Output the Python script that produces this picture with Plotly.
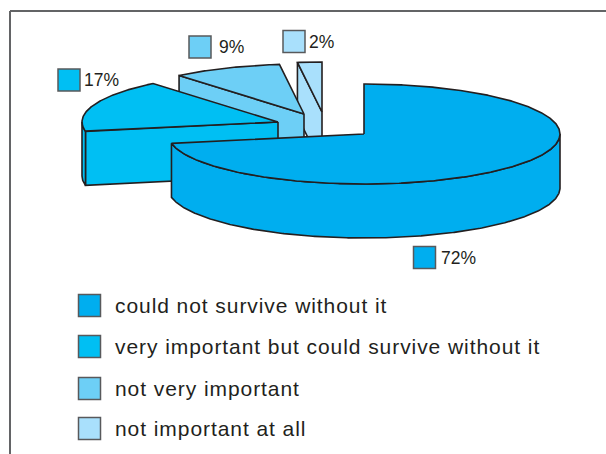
import numpy as np
import plotly.graph_objects as go

categories = ["could not survive without it", "very important but could survive without it",
              "not very important", "not important at all"]
values = [72, 17, 9, 2]
pct_labels = ["72%", "17%", "9%", "2%"]

# styles and layout constants
colors = ["#00AEEF", "#00BFF3", "#6DCFF6", "#A9E0FC"]
W, H = 606, 454
RX, RY, DEPTH = 196, 50, 54
CENTER = (364, 134)
explode = [(0, 0), (-86, -12), (-60, -20), (-42, -22)]
tag_pos = [(424.5, 257.5), (69, 80), (200, 47), (294, 41.5)]
tag_text_x = [439, 82, 217, 307]
legend_x, legend_y = 89.5, [305.5, 346.5, 388.5, 428.5]
INK, EDGE = "#231F20", "#58595B"

fig = go.Figure()

def poly(xs, ys, color):
    fig.add_trace(go.Scatter(x=list(xs), y=list(ys), mode="lines", fill="toself",
                             fillcolor=color, line=dict(color=INK, width=1.6),
                             hoverinfo="skip", showlegend=False))

def arc(cx, cy, a, b):
    t = np.radians(np.linspace(a, b, max(int(abs(b - a)) * 2, 2) + 1))
    return cx + RX * np.sin(t), cy - RY * np.cos(t)

edges = np.concatenate([[0], np.cumsum(values)]) / sum(values) * 360

for i in reversed(range(len(values))):
    a, b = edges[i], edges[i + 1]
    cx, cy = CENTER[0] + explode[i][0], CENTER[1] + explode[i][1]
    c = colors[i]
    if i > 0:
        # cut face on the leading edge, seen from the front
        ex, ey = arc(cx, cy, a, a)
        poly([cx, ex[0], ex[0], cx, cx], [cy, ey[0], ey[0] + DEPTH, cy + DEPTH, cy], c)
    # outer wall where it faces the viewer
    lo, hi = max(a, 90), min(b, 270)
    if lo < hi:
        ax, ay = arc(cx, cy, lo, hi)
        poly(np.r_[ax, ax[::-1], ax[0]], np.r_[ay, ay[::-1] + DEPTH, ay[0]], c)
    # top surface
    ax, ay = arc(cx, cy, a, b)
    poly(np.r_[cx, ax, cx], np.r_[cy, ay, cy], c)

def square(x, y, color):
    fig.add_trace(go.Scatter(x=[x], y=[y], mode="markers", hoverinfo="skip", showlegend=False,
                             marker=dict(symbol="square", size=22, color=color,
                                         line=dict(color=EDGE, width=1.5))))

annos = []
for (x, y), tx, c, t in zip(tag_pos, tag_text_x, colors, pct_labels):
    square(x, y, c)
    annos.append(dict(x=tx, y=y, text=t, xanchor="left", yanchor="middle", showarrow=False, align="left",
                      font=dict(family="Liberation Sans", size=17.5, color=INK)))
for y, c, t in zip(legend_y, colors, categories):
    square(legend_x, y, c)
    annos.append(dict(x=112.5, y=y, text=t, xanchor="left", yanchor="middle", showarrow=False, align="left",
                      font=dict(family="Liberation Sans", size=21, color=INK)))

fig.update_layout(
    width=W, height=H, margin=dict(l=0, r=0, t=0, b=0), autosize=False,
    paper_bgcolor="white", plot_bgcolor="white", showlegend=False,
    xaxis=dict(range=[0, W], visible=False, fixedrange=True),
    yaxis=dict(range=[H, 0], visible=False, fixedrange=True),
    annotations=annos,
    shapes=[dict(type="line", x0=10, x1=10, y0=11, y1=H, line=dict(color="#636466", width=2)),
            dict(type="line", x0=10, x1=W, y0=11, y1=11, line=dict(color="#636466", width=2))],
)
post = """
document.body.style.margin='0';
document.body.style.overflow='hidden';
document.querySelectorAll('.annotation-text').forEach(function(t){
  if(t.textContent.length>5){t.style.letterSpacing='0.93px';}
});
"""
fig.write_html("out.html", config=dict(displayModeBar=False), post_script=post)
